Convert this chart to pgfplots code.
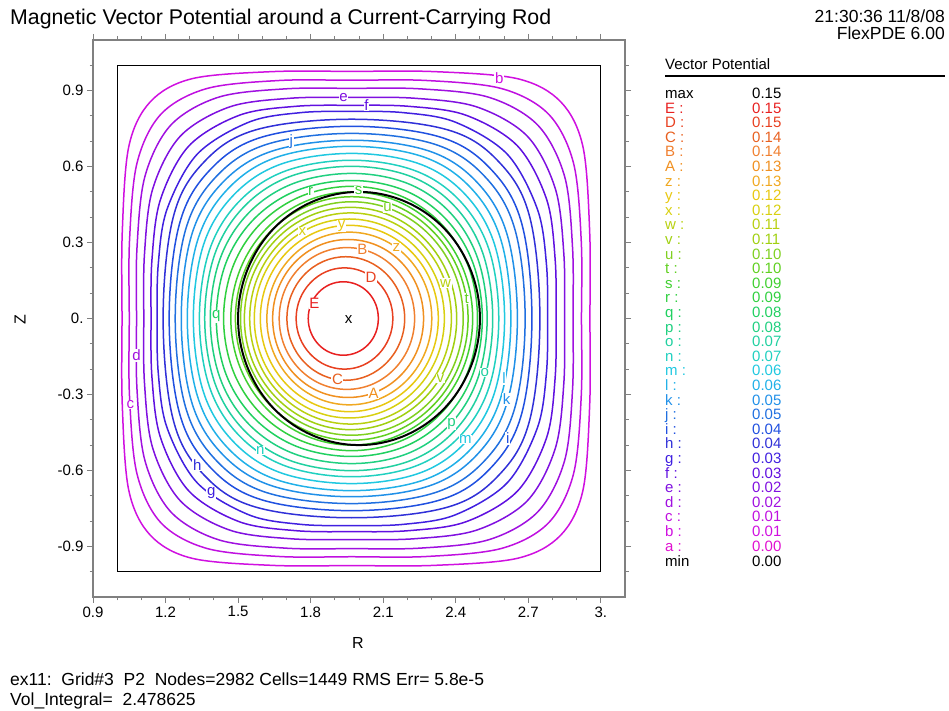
\documentclass[border=0pt]{standalone}
\usepackage{fontspec}
\setmainfont{Liberation Sans}
\usepackage{pgfplots}
\pgfplotsset{compat=1.18}

% contour colours, a (lowest) .. E (highest)
\definecolor{Ca}{HTML}{E010D0}
\definecolor{Cb}{HTML}{D010E0}
\definecolor{Cc}{HTML}{C010E0}
\definecolor{Cd}{HTML}{A010E0}
\definecolor{Ce}{HTML}{8010E0}
\definecolor{Cf}{HTML}{6010E0}
\definecolor{Cg}{HTML}{4020E0}
\definecolor{Ch}{HTML}{3030D8}
\definecolor{Ci}{HTML}{2050E0}
\definecolor{Cj}{HTML}{2070E0}
\definecolor{Ck}{HTML}{2090E8}
\definecolor{Cl}{HTML}{20B0E8}
\definecolor{Cm}{HTML}{20C8E0}
\definecolor{Cn}{HTML}{20D0C0}
\definecolor{Co}{HTML}{20D0A0}
\definecolor{Cp}{HTML}{20D080}
\definecolor{Cq}{HTML}{20D060}
\definecolor{Cr}{HTML}{30D040}
\definecolor{Cs}{HTML}{40D030}
\definecolor{Ct}{HTML}{60D020}
\definecolor{Cu}{HTML}{80D020}
\definecolor{Cv}{HTML}{A0D010}
\definecolor{Cw}{HTML}{B8D010}
\definecolor{Cx}{HTML}{D8D010}
\definecolor{Cy}{HTML}{E8C810}
\definecolor{Cz}{HTML}{F0A820}
\definecolor{CA}{HTML}{F09020}
\definecolor{CB}{HTML}{F08030}
\definecolor{CC}{HTML}{E86020}
\definecolor{CD}{HTML}{E84020}
\definecolor{CE}{HTML}{E82020}

\newcommand\fs{\fontsize{16}{19}\selectfont}
\newcommand\ff{\fontsize{17.5}{21}\selectfont}
\newcommand\lf{\fontsize{15}{18}\selectfont}
\tikzset{clab/.style={fill=white, inner sep=0.6pt, font=\lf}}

\begin{document}
\begin{tikzpicture}
\useasboundingbox (0,0) rectangle (949pt,711pt);
\begin{axis}[
  at={(93pt,114pt)}, anchor=south west,
  scale only axis, width=532pt, height=557pt,
  xmin=0.9, xmax=3.1, ymin=-1.1, ymax=1.1,
  xtick={0.9,1.2,1.5,1.8,2.1,2.4,2.7,3.0},
  xticklabels={0.9,1.2,1.5,1.8,2.1,2.4,2.7,3.},
  ytick={-0.9,-0.6,-0.3,0,0.3,0.6,0.9},
  yticklabels={-0.9,-0.6,-0.3,0.,0.3,0.6,0.9},
  minor xtick={1.0,1.1,1.3,1.4,1.6,1.7,1.9,2.0,2.2,2.3,2.5,2.6,2.8,2.9},
  minor ytick={-1.0,-0.8,-0.7,-0.5,-0.4,-0.2,-0.1,0.1,0.2,0.4,0.5,0.7,0.8,1.0},
  tick align=outside,
  major tick length=6pt, minor tick length=3.5pt,
  axis line style={draw=gray, line width=1.3pt},
  every tick/.style={gray, line width=1pt},
  tick label style={font=\lf},
  /pgf/number format/assume math mode=true,
  every axis plot/.append style={line width=1.5pt},
]
% domain boundary
\addplot[black, line width=1pt] coordinates {(1,-1) (3,-1) (3,1) (1,1) (1,-1)};

% outer contours b..g (rounded squares, extra points on the flat sides)
\addplot[Cb, smooth cycle, tension=0.55] coordinates {(2.955,0) (2.954,0.340) (2.926,0.679) (2.834,0.856) (2.656,0.947) (2.313,0.975) (1.970,0.976) (1.639,0.975) (1.309,0.947) (1.137,0.856) (1.048,0.679) (1.021,0.340) (1.020,0) (1.021,-0.340) (1.048,-0.679) (1.137,-0.856) (1.309,-0.947) (1.639,-0.975) (1.970,-0.976) (2.313,-0.975) (2.656,-0.947) (2.834,-0.856) (2.926,-0.679) (2.954,-0.340)};
\addplot[Cc, smooth cycle, tension=0.55] coordinates {(2.920,0) (2.919,0.307) (2.887,0.614) (2.784,0.807) (2.590,0.908) (2.280,0.940) (1.970,0.941) (1.670,0.940) (1.370,0.908) (1.181,0.807) (1.082,0.614) (1.051,0.307) (1.050,0) (1.051,-0.307) (1.082,-0.614) (1.181,-0.807) (1.370,-0.908) (1.670,-0.940) (1.970,-0.941) (2.280,-0.940) (2.590,-0.908) (2.784,-0.807) (2.887,-0.614) (2.919,-0.307)};
\addplot[Cd, smooth cycle, tension=0.55] coordinates {(2.885,0) (2.883,0.281) (2.850,0.562) (2.739,0.764) (2.536,0.874) (2.253,0.907) (1.970,0.909) (1.695,0.907) (1.419,0.874) (1.222,0.764) (1.115,0.562) (1.082,0.281) (1.080,0) (1.082,-0.281) (1.115,-0.562) (1.222,-0.764) (1.419,-0.874) (1.695,-0.907) (1.970,-0.909) (2.253,-0.907) (2.536,-0.874) (2.739,-0.764) (2.850,-0.562) (2.883,-0.281)};
\addplot[Ce, smooth cycle, tension=0.55] coordinates {(2.850,0) (2.847,0.256) (2.812,0.512) (2.696,0.720) (2.486,0.836) (2.228,0.870) (1.970,0.873) (1.718,0.870) (1.466,0.836) (1.261,0.720) (1.147,0.512) (1.113,0.256) (1.110,0) (1.113,-0.256) (1.147,-0.512) (1.261,-0.720) (1.466,-0.836) (1.718,-0.870) (1.970,-0.873) (2.228,-0.870) (2.486,-0.836) (2.696,-0.720) (2.812,-0.512) (2.847,-0.256)};
\addplot[Cf, smooth cycle, tension=0.55] coordinates {(2.815,0) (2.811,0.235) (2.776,0.470) (2.655,0.682) (2.442,0.803) (2.206,0.838) (1.970,0.842) (1.738,0.838) (1.506,0.803) (1.297,0.682) (1.179,0.470) (1.144,0.235) (1.140,0) (1.144,-0.235) (1.179,-0.470) (1.297,-0.682) (1.506,-0.803) (1.738,-0.838) (1.970,-0.842) (2.206,-0.838) (2.442,-0.803) (2.655,-0.682) (2.776,-0.470) (2.811,-0.235)};
\addplot[Cg, smooth cycle, tension=0.55] coordinates {(2.780,0) (2.775,0.216) (2.738,0.431) (2.613,0.649) (2.397,0.776) (2.184,0.813) (1.970,0.818) (1.758,0.813) (1.546,0.776) (1.331,0.649) (1.206,0.431) (1.170,0.216) (1.165,0) (1.170,-0.216) (1.206,-0.431) (1.331,-0.649) (1.546,-0.776) (1.758,-0.813) (1.970,-0.818) (2.184,-0.813) (2.397,-0.776) (2.613,-0.649) (2.738,-0.431) (2.775,-0.216)};

% contours h..r
\addplot[Ch, smooth cycle, tension=0.6] coordinates {(2.748,0) (2.706,0.401) (2.580,0.617) (2.367,0.745) (1.970,0.787) (1.573,0.745) (1.358,0.617) (1.232,0.401) (1.190,0) (1.232,-0.401) (1.358,-0.617) (1.573,-0.745) (1.970,-0.787) (2.367,-0.745) (2.580,-0.617) (2.706,-0.401)};
\addplot[Ci, smooth cycle, tension=0.6] coordinates {(2.715,0) (2.673,0.375) (2.547,0.588) (2.338,0.716) (1.970,0.759) (1.597,0.716) (1.385,0.588) (1.258,0.375) (1.215,0) (1.258,-0.375) (1.385,-0.588) (1.597,-0.716) (1.970,-0.759) (2.338,-0.716) (2.547,-0.588) (2.673,-0.375)};
\addplot[Cj, smooth cycle, tension=0.6] coordinates {(2.687,0) (2.645,0.351) (2.520,0.561) (2.314,0.688) (1.970,0.731) (1.619,0.688) (1.410,0.561) (1.283,0.351) (1.240,0) (1.283,-0.351) (1.410,-0.561) (1.619,-0.688) (1.970,-0.731) (2.314,-0.688) (2.520,-0.561) (2.645,-0.351)};
\addplot[Ck, smooth cycle, tension=0.6] coordinates {(2.655,0) (2.613,0.330) (2.491,0.535) (2.291,0.661) (1.970,0.704) (1.640,0.661) (1.434,0.535) (1.308,0.330) (1.265,0) (1.308,-0.330) (1.434,-0.535) (1.640,-0.661) (1.970,-0.704) (2.291,-0.661) (2.491,-0.535) (2.613,-0.330)};
\addplot[Cl, smooth cycle, tension=0.6] coordinates {(2.628,0) (2.587,0.310) (2.466,0.512) (2.270,0.637) (1.970,0.680) (1.660,0.637) (1.458,0.512) (1.333,0.310) (1.290,0) (1.333,-0.310) (1.458,-0.512) (1.660,-0.637) (1.970,-0.680) (2.270,-0.637) (2.466,-0.512) (2.587,-0.310)};
\addplot[Cm, smooth cycle, tension=0.6] coordinates {(2.602,0) (2.561,0.291) (2.442,0.487) (2.252,0.610) (1.970,0.652) (1.678,0.610) (1.481,0.487) (1.357,0.291) (1.315,0) (1.357,-0.291) (1.481,-0.487) (1.678,-0.610) (1.970,-0.652) (2.252,-0.610) (2.442,-0.487) (2.561,-0.291)};
\addplot[Cn, smooth cycle, tension=0.6] coordinates {(2.578,0) (2.538,0.271) (2.420,0.462) (2.234,0.583) (1.970,0.625) (1.697,0.583) (1.504,0.462) (1.382,0.271) (1.340,0) (1.382,-0.271) (1.504,-0.462) (1.697,-0.583) (1.970,-0.625) (2.234,-0.583) (2.420,-0.462) (2.538,-0.271)};
\addplot[Co, smooth cycle, tension=0.6] coordinates {(2.553,0) (2.513,0.255) (2.398,0.441) (2.217,0.560) (1.970,0.601) (1.712,0.560) (1.524,0.441) (1.404,0.255) (1.362,0) (1.404,-0.255) (1.524,-0.441) (1.712,-0.560) (1.970,-0.601) (2.217,-0.560) (2.398,-0.441) (2.513,-0.255)};
\addplot[Cp, smooth cycle, tension=0.6] coordinates {(2.530,0) (2.491,0.237) (2.378,0.417) (2.202,0.533) (1.970,0.573) (1.728,0.533) (1.544,0.417) (1.426,0.237) (1.385,0) (1.426,-0.237) (1.544,-0.417) (1.728,-0.533) (1.970,-0.573) (2.202,-0.533) (2.378,-0.417) (2.491,-0.237)};
\addplot[Cq, smooth cycle, tension=0.6] coordinates {(2.510,0) (2.471,0.220) (2.359,0.393) (2.188,0.506) (1.970,0.545) (1.744,0.506) (1.566,0.393) (1.450,0.220) (1.410,0) (1.450,-0.220) (1.566,-0.393) (1.744,-0.506) (1.970,-0.545) (2.188,-0.506) (2.359,-0.393) (2.471,-0.220)};
\addplot[Cr, smooth cycle, tension=0.6] coordinates {(2.490,0) (2.452,0.206) (2.341,0.373) (2.175,0.483) (1.970,0.522) (1.761,0.483) (1.591,0.373) (1.479,0.206) (1.440,0) (1.479,-0.206) (1.591,-0.373) (1.761,-0.483) (1.970,-0.522) (2.175,-0.483) (2.341,-0.373) (2.452,-0.206)};

% inner contours s..E (near circles inside the rod)
\addplot[Cs, smooth cycle, tension=0.68] coordinates {(2.470,0) (2.324,0.354) (1.970,0.500) (1.616,0.354) (1.470,0) (1.616,-0.354) (1.970,-0.500) (2.324,-0.354)};
\addplot[Ct, smooth cycle, tension=0.68] coordinates {(2.451,0) (2.310,0.340) (1.970,0.481) (1.630,0.340) (1.489,0) (1.630,-0.340) (1.970,-0.481) (2.310,-0.340)};
\addplot[Cu, smooth cycle, tension=0.68] coordinates {(2.431,0) (2.296,0.326) (1.970,0.461) (1.644,0.326) (1.510,0) (1.644,-0.326) (1.970,-0.461) (2.296,-0.326)};
\addplot[Cv, smooth cycle, tension=0.68] coordinates {(2.404,0) (2.275,0.310) (1.965,0.439) (1.655,0.310) (1.526,0) (1.655,-0.310) (1.965,-0.439) (2.275,-0.310)};
\addplot[Cw, smooth cycle, tension=0.68] coordinates {(2.382,0) (2.260,0.295) (1.965,0.417) (1.670,0.295) (1.548,0) (1.670,-0.295) (1.965,-0.417) (2.260,-0.295)};
\addplot[Cx, smooth cycle, tension=0.68] coordinates {(2.353,0) (2.238,0.278) (1.960,0.393) (1.682,0.278) (1.567,0) (1.682,-0.278) (1.960,-0.393) (2.238,-0.278)};
\addplot[Cy, smooth cycle, tension=0.68] coordinates {(2.328,0) (2.220,0.260) (1.960,0.368) (1.700,0.260) (1.592,0) (1.700,-0.260) (1.960,-0.368) (2.220,-0.260)};
\addplot[Cz, smooth cycle, tension=0.68] coordinates {(2.301,0) (2.201,0.241) (1.960,0.341) (1.719,0.241) (1.619,0) (1.719,-0.241) (1.960,-0.341) (2.201,-0.241)};
\addplot[CA, smooth cycle, tension=0.68] coordinates {(2.267,0) (2.176,0.221) (1.955,0.312) (1.734,0.221) (1.643,0) (1.734,-0.221) (1.955,-0.312) (2.176,-0.221)};
\addplot[CB, smooth cycle, tension=0.68] coordinates {(2.230,0) (2.148,0.198) (1.950,0.280) (1.752,0.198) (1.670,0) (1.752,-0.198) (1.950,-0.280) (2.148,-0.198)};
\addplot[CC, smooth cycle, tension=0.68] coordinates {(2.189,0) (2.117,0.172) (1.945,0.244) (1.773,0.172) (1.702,0) (1.773,-0.172) (1.945,-0.244) (2.117,-0.172)};
\addplot[CD, smooth cycle, tension=0.68] coordinates {(2.140,0) (2.081,0.141) (1.940,0.200) (1.799,0.141) (1.740,0) (1.799,-0.141) (1.940,-0.200) (2.081,-0.141)};
\addplot[CE, smooth cycle, tension=0.68] coordinates {(2.080,0) (2.038,0.103) (1.935,0.145) (1.833,0.103) (1.790,0) (1.833,-0.103) (1.935,-0.145) (2.038,-0.103)};

% rod boundary
\addplot[black, line width=2pt, smooth cycle, tension=0.62] coordinates {(2.5,0) (2.462,0.191) (2.354,0.354) (2.191,0.462) (2,0.5) (1.809,0.462) (1.646,0.354) (1.538,0.191) (1.5,0) (1.538,-0.191) (1.646,-0.354) (1.809,-0.462) (2,-0.5) (2.191,-0.462) (2.354,-0.354) (2.462,-0.191)};

% contour labels
\node[clab, text=Cb] at (2.58,0.950) {b};
\node[clab, text=Cc] at (1.055,-0.34) {c};
\node[clab, text=Cd] at (1.08,-0.146) {d};
\node[clab, text=Ce] at (1.936,0.873) {e};
\node[clab, text=Cf] at (2.031,0.842) {f};
\node[clab, text=Cg] at (1.389,-0.69) {g};
\node[clab, text=Ch] at (1.331,-0.58) {h};
\node[clab, text=Ci] at (2.615,-0.474) {i};
\node[clab, text=Cj] at (1.72,0.70) {j};
\node[clab, text=Ck] at (2.61,-0.32) {k};
\node[clab, text=Cl] at (2.60,-0.237) {l};
\node[clab, text=Cm] at (2.44,-0.478) {m};
\node[clab, text=Cn] at (1.592,-0.52) {n};
\node[clab, text=Co] at (2.52,-0.213) {o};
\node[clab, text=Cp] at (2.383,-0.415) {p};
\node[clab, text=Cq] at (1.41,0.008) {q};
\node[clab, text=Cr] at (1.80,0.50) {r};
\node[clab, text=Cs] at (1.998,0.506) {s};
\node[clab, text=Ct] at (2.445,0.079) {t};
\node[clab, text=Cu] at (2.118,0.436) {u};
\node[clab, text=Cv] at (2.337,-0.236) {v};
\node[clab, text=Cw] at (2.358,0.14) {w};
\node[clab, text=Cx] at (1.766,0.342) {x};
\node[clab, text=Cy] at (1.928,0.366) {y};
\node[clab, text=Cz] at (2.155,0.28) {z};
\node[clab, text=CA] at (2.06,-0.294) {A};
\node[clab, text=CB] at (2.014,0.272) {B};
\node[clab, text=CC] at (1.911,-0.241) {C};
\node[clab, text=CD] at (2.05,0.162) {D};
\node[clab, text=CE] at (1.815,0.06) {E};
\node[font=\lf] at (1.957,-0.005) {x};
\end{axis}

% title and stamps
\node[anchor=base west, inner sep=0pt, font=\fontsize{21.3}{25}\selectfont] at (10pt,686pt) {Magnetic Vector Potential around a Current-Carrying Rod};
\node[anchor=base east, inner sep=0pt, font=\ff] at (945pt,688pt) {21:30:36 11/8/08};
\node[anchor=base east, inner sep=0pt, font=\ff] at (945pt,671pt) {FlexPDE 6.00};

% axis names
\node[anchor=base, font=\fs] at (358pt,62pt) {R};
\node[font=\fs, rotate=90] at (20pt,391pt) {Z};

% footer
\node[anchor=base west, inner sep=0pt, font=\ff] at (10pt,25pt) {ex11:\ \ Grid\#3\ \ P2\ \ Nodes=2982 Cells=1449 RMS Err= 5.8e-5};
\node[anchor=base west, inner sep=0pt, font=\ff] at (10pt,5pt) {Vol\_Integral=\ \ 2.478625};

% level table
\node[anchor=base west, inner sep=0pt, font=\lf] at (665pt,641pt) {Vector Potential};
\draw[line width=1.5pt] (665pt,635pt) -- (945pt,635pt);
\node[anchor=base west, inner sep=0pt, font=\lf] at (665pt,612.5pt) {max};
\node[anchor=base west, inner sep=0pt, font=\lf] at (752pt,612.5pt) {0.15};
\foreach \lab/\val/\col [count=\i] in {E/0.15/CE, D/0.15/CD, C/0.14/CC, B/0.14/CB, A/0.13/CA, z/0.13/Cz, y/0.12/Cy, x/0.12/Cx, w/0.11/Cw, v/0.11/Cv, u/0.10/Cu, t/0.10/Ct, s/0.09/Cs, r/0.09/Cr, q/0.08/Cq, p/0.08/Cp, o/0.07/Co, n/0.07/Cn, m/0.06/Cm, l/0.06/Cl, k/0.05/Ck, j/0.05/Cj, i/0.04/Ci, h/0.04/Ch, g/0.03/Cg, f/0.03/Cf, e/0.02/Ce, d/0.02/Cd, c/0.01/Cc, b/0.01/Cb, a/0.00/Ca} {
  \node[anchor=base west, inner sep=0pt, font=\lf, text=\col] at (665pt,{612.5pt-\i*14.6pt}) {\lab\ :};
  \node[anchor=base west, inner sep=0pt, font=\lf, text=\col] at (752pt,{612.5pt-\i*14.6pt}) {\val};
}
\node[anchor=base west, inner sep=0pt, font=\lf] at (665pt,144.9pt) {min};
\node[anchor=base west, inner sep=0pt, font=\lf] at (752pt,144.9pt) {0.00};
\end{tikzpicture}
\end{document}
